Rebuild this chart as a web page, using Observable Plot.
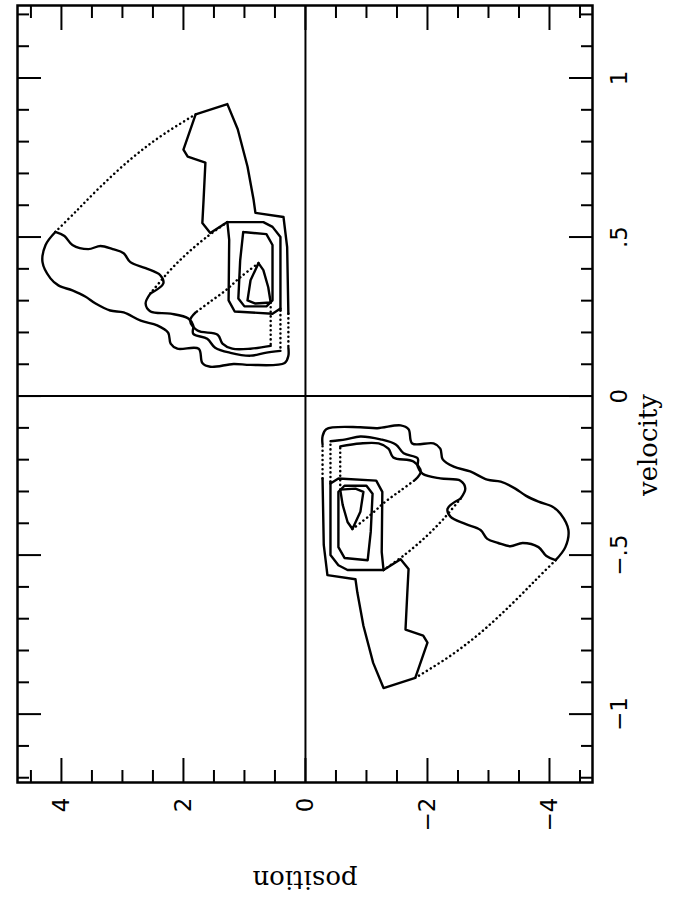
<!DOCTYPE html>
<html><head><meta charset="utf-8">
<script src="https://cdn.jsdelivr.net/npm/d3@7"></script>
<script src="https://cdn.jsdelivr.net/npm/@observablehq/plot@0.6"></script>
<style>body{margin:0;background:#fff}</style>
</head><body><div id="chart"></div>
<script>
// axis ticks
const positionTicks = [-4, -2, 0, 2, 4];
const positionMinor = [-4.5, -3.5, -3, -2.5, -1.5, -1, -0.5, 0.5, 1, 1.5, 2.5, 3, 3.5, 4.5];
const velocityTicks = [-1, -0.5, 0, 0.5, 1];
const velocityMinor = [-1.2, -1.1, -0.9, -0.8, -0.7, -0.6, -0.4, -0.3, -0.2, -0.1,
                       0.1, 0.2, 0.3, 0.4, 0.6, 0.7, 0.8, 0.9, 1.1, 1.2];
const velocityLabels = ["\u22121", "\u2212.5", "0", ".5", "1"];
const positionLabels = ["\u22124", "\u22122", "0", "2", "4"];

// curves of the positive quadrant, as [position, velocity]; the other set is its point reflection
const outerRight = [[1.80,0.886],[1.28,0.918],[1.11,0.839],[0.95,0.722],[0.85,0.617],[0.82,0.576],[0.36,0.563],[0.30,0.468],[0.28,0.259]];
const notchLine = [[1.80,0.886],[2.00,0.775],[1.93,0.753],[1.64,0.734],[1.67,0.617],[1.69,0.544],[1.56,0.513],[1.28,0.547],[0.69,0.547],[0.54,0.532],[0.41,0.500],[0.41,0.269]];
const middleU = [[1.28,0.547],[1.25,0.491],[1.26,0.301],[1.16,0.266],[0.54,0.259],[0.41,0.275]];
const innerU = [[1.02,0.516],[1.07,0.427],[1.10,0.307],[1.00,0.282],[0.64,0.282],[0.54,0.301],[0.54,0.475],[0.64,0.509],[1.02,0.516]];
const innerTriangle = [[0.77,0.418],[0.90,0.364],[0.95,0.301],[0.82,0.291],[0.57,0.294],[0.61,0.342],[0.69,0.396],[0.77,0.418]];
// wavy band lines
const outerBottom = [[0.28,0.152],[0.28,0.127],[0.34,0.104],[0.90,0.098],[1.18,0.101],[1.56,0.092],[1.69,0.104],[1.75,0.149],[2.10,0.149],[2.21,0.165],[2.25,0.199],[2.43,0.222],[2.70,0.237],[2.98,0.263],[3.20,0.269],[3.44,0.291],[3.61,0.313],[3.82,0.332],[4.05,0.348],[4.18,0.370],[4.31,0.421],[4.26,0.475],[4.10,0.516]];
const bandUpper = [[4.10,0.516],[3.95,0.503],[3.82,0.475],[3.56,0.462],[3.36,0.472],[3.16,0.462],[2.98,0.449],[2.87,0.421],[2.62,0.402],[2.38,0.380],[2.33,0.354],[2.54,0.323]];
const wavyB = [[2.54,0.323],[2.62,0.291],[2.54,0.266],[2.21,0.259],[1.92,0.244],[1.84,0.222],[1.84,0.196],[1.61,0.180],[1.48,0.152],[1.23,0.136],[0.90,0.127],[0.66,0.136],[0.41,0.142]];
const wavyC = [[1.80,0.263],[1.89,0.237],[1.77,0.206],[1.44,0.193],[1.36,0.165],[1.20,0.149],[0.90,0.149],[0.57,0.158]];

const arcOuter = [[4.10,0.516],[3.77,0.579],[3.36,0.658],[2.87,0.744],[2.38,0.816],[1.80,0.886]];
const arcMiddle = [[1.28,0.547],[1.64,0.497],[1.97,0.443],[2.25,0.389],[2.54,0.323]];
const arcInner = [[0.77,0.418],[1.07,0.373],[1.31,0.332],[1.56,0.297],[1.80,0.263]];
const dotDrop1 = [[0.28,0.259],[0.28,0.152]];
const dotDrop2 = [[0.41,0.269],[0.41,0.142]];
const dotDrop3 = [[0.57,0.294],[0.57,0.158]];

function rows(named) {
  const out = [];
  for (const [id, pts] of Object.entries(named)) {
    for (const s of [1, -1]) {
      for (const [p, v] of pts) out.push({id: id + s, p: s * p, v: s * v});
    }
  }
  return out;
}
const solidRows = rows({outerRight, notchLine, middleU, innerU, innerTriangle});
const wavyRows = rows({outerBottom, bandUpper, wavyB, wavyC});
const straightDots = rows({dotDrop1, dotDrop2, dotDrop3});
const arcRows = rows({arcOuter, arcMiddle, arcInner});

const numFont = "DejaVu Sans";
const wordFont = "DejaVu Serif";

const chart = Plot.plot({
  width: 676,
  height: 897,
  marginLeft: 17,
  marginRight: 84,
  marginTop: 5,
  marginBottom: 115,
  x: {domain: [4.72, -4.705]},
  y: {domain: [-1.215, 1.228]},
  marks: [
    Plot.line(solidRows, {x: "p", y: "v", z: "id", stroke: "black", strokeWidth: 2.4, strokeLinejoin: "round"}),
    Plot.line(wavyRows, {x: "p", y: "v", z: "id", stroke: "black", strokeWidth: 2.4, curve: "catmull-rom", strokeLinejoin: "round"}),
    Plot.line(arcRows, {x: "p", y: "v", z: "id", stroke: "black", strokeWidth: 2.5, curve: "catmull-rom", strokeDasharray: "0.1,4.5", strokeLinecap: "round"}),
    Plot.line(straightDots, {x: "p", y: "v", z: "id", stroke: "black", strokeWidth: 2.5, strokeDasharray: "0.1,4.5", strokeLinecap: "round"}),
    Plot.ruleX([0], {stroke: "black", strokeWidth: 2}),
    Plot.ruleY([0], {stroke: "black", strokeWidth: 2}),
    Plot.axisX(positionTicks, {anchor: "bottom", tickSize: -24, strokeWidth: 2, fill: "none", label: null}),
    Plot.axisX(positionTicks, {anchor: "top", tickSize: -24, strokeWidth: 2, fill: "none", label: null}),
    Plot.axisX(positionMinor, {anchor: "bottom", tickSize: -12, strokeWidth: 2, fill: "none", label: null}),
    Plot.axisX(positionMinor, {anchor: "top", tickSize: -12, strokeWidth: 2, fill: "none", label: null}),
    Plot.axisY(velocityTicks, {anchor: "left", tickSize: -24, strokeWidth: 2, fill: "none", label: null}),
    Plot.axisY(velocityTicks, {anchor: "right", tickSize: -24, strokeWidth: 2, fill: "none", label: null}),
    Plot.axisY(velocityMinor, {anchor: "left", tickSize: -12, strokeWidth: 2, fill: "none", label: null}),
    Plot.axisY(velocityMinor, {anchor: "right", tickSize: -12, strokeWidth: 2, fill: "none", label: null}),
    Plot.frame({stroke: "black", strokeWidth: 2.5}),
    Plot.text(positionTicks, {x: d => d, frameAnchor: "bottom", dy: 15, rotate: -90, textAnchor: "end", lineAnchor: "middle",
      text: (d, i) => positionLabels[i], fontSize: 23, fontFamily: numFont, fill: "black"}),
    Plot.text(velocityTicks, {y: d => d, frameAnchor: "right", dx: 27, rotate: -90, textAnchor: "middle", lineAnchor: "middle",
      text: (d, i) => velocityLabels[i], fontSize: 23, fontFamily: numFont, fill: "black"}),
    Plot.text(["velocity"], {frameAnchor: "right", dx: 56, dy: 0, rotate: -90, text: d => d, fontSize: 26, fontFamily: wordFont, fill: "black", lineAnchor: "middle"}),
    Plot.text(["position"], {frameAnchor: "bottom", dy: 97, rotate: 180, text: d => d, fontSize: 26, fontFamily: wordFont, fill: "black", lineAnchor: "middle"})
  ]
});
document.getElementById("chart").appendChild(chart);
</script>
</body></html>
